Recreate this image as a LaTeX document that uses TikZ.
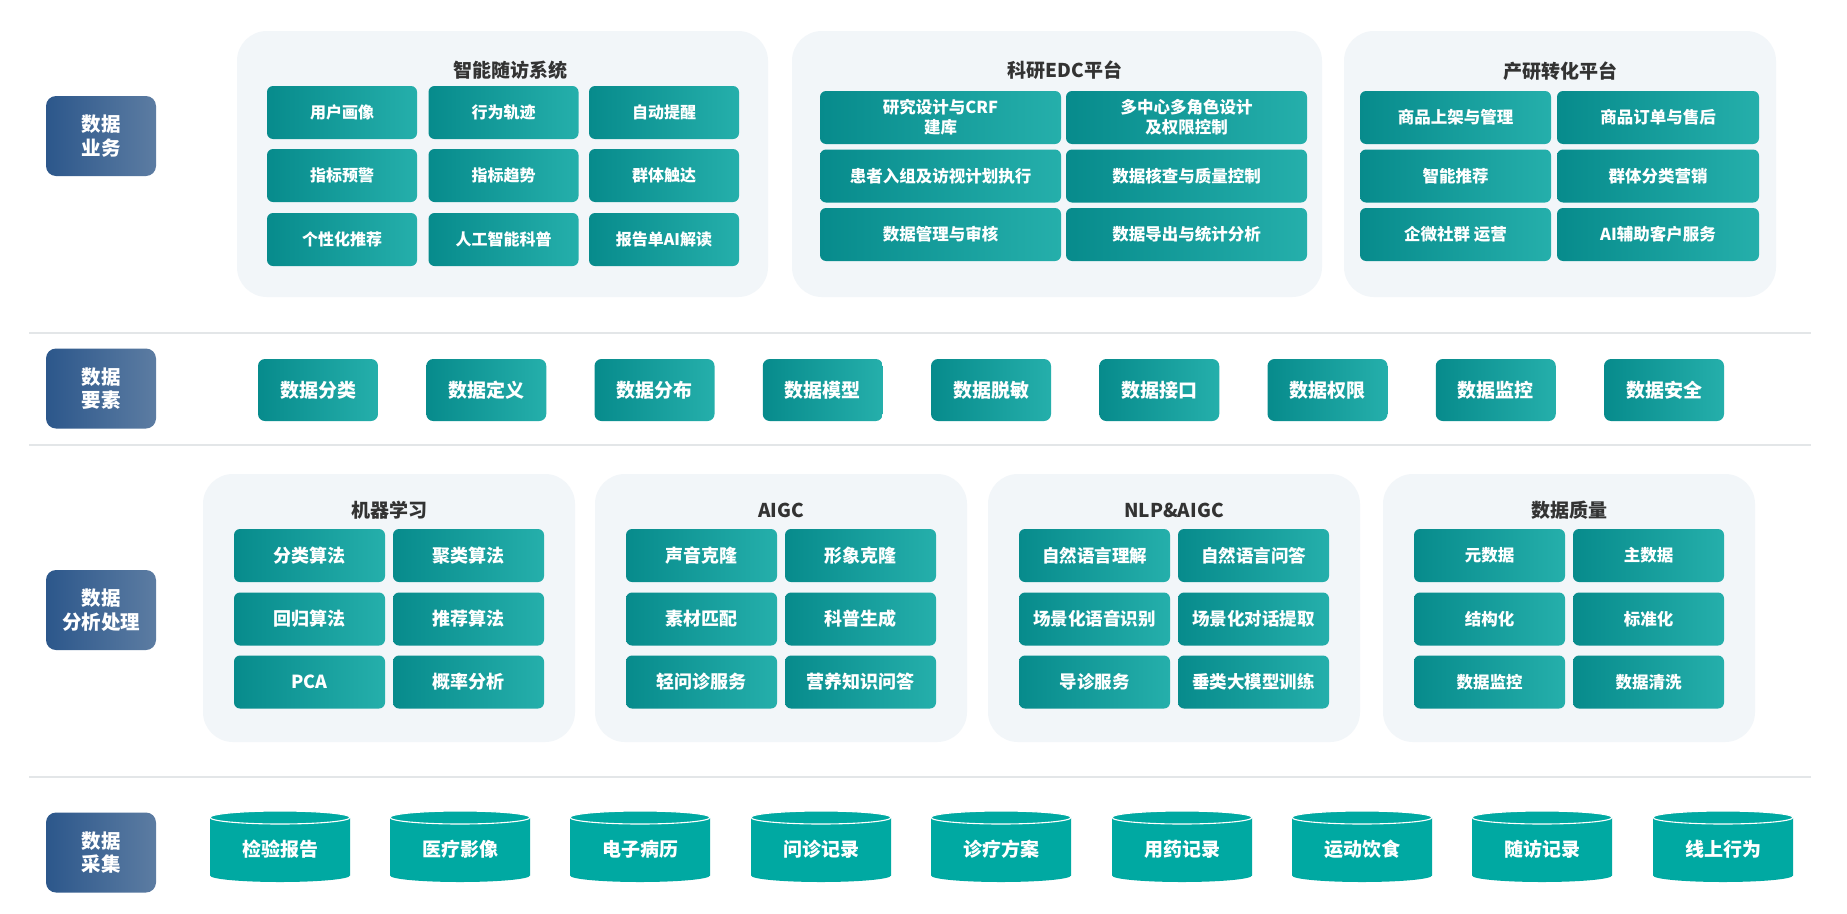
\documentclass[tikz,border=0pt]{standalone}
\usepackage{fontspec}
\setmainfont{Noto Sans CJK SC}

\definecolor{lblL}{HTML}{2C578B}
\definecolor{lblR}{HTML}{5C7CA2}
\definecolor{cellL}{HTML}{078B8C}
\definecolor{cellR}{HTML}{25AFAB}
\definecolor{grpbg}{HTML}{F2F6F9}
\definecolor{sepc}{HTML}{E3E6E8}
\definecolor{cylc}{HTML}{00A9A2}
\definecolor{titlec}{HTML}{333333}

\tikzset{
  rowlabel/.style={rounded corners=10pt, left color=lblL, right color=lblR, text=white,
    font=\bfseries\fontsize{19.5}{23.5}\selectfont, align=center,
    minimum width=110pt, minimum height=80pt, inner sep=0pt},
  groupbox/.style={fill=grpbg, rounded corners=30pt},
  grouptitle/.style={text=titlec, font=\bfseries\fontsize{19}{22}\selectfont},
  cellbox/.style={rounded corners=6pt, left color=cellL, right color=cellR, text=white,
    font=\bfseries\fontsize{16}{20}\selectfont, align=center,
    minimum width=#1, minimum height=53pt, inner sep=0pt},
  cellbox/.default=150pt,
  bigcell/.style={cellbox=151pt, font=\bfseries\fontsize{18}{21}\selectfont},
  midcell/.style={cellbox=151pt, font=\bfseries\fontsize{17.5}{21}\selectfont},
  elembox/.style={cellbox=120pt, minimum height=62pt, rounded corners=7pt,
    font=\bfseries\fontsize{19}{22}\selectfont},
  sepline/.style={draw=sepc, line width=2pt},
  cylbody/.style={fill=cylc},
  cyltop/.style={draw=white, line width=1.1pt},
  cyltext/.style={text=white, font=\bfseries\fontsize{19}{22}\selectfont},
}

\begin{document}
\begin{tikzpicture}[x=1pt, y=-1pt]

  % Canvas
  \useasboundingbox (0,0) rectangle (1847,913);
  \fill[white] (0,0) rectangle (1847,913);

  % Separators between the layers
  \draw[sepline] (29,333) -- (1811,333);
  \draw[sepline] (29,445) -- (1811,445);
  \draw[sepline] (29,777) -- (1811,777);

  % Layer labels
  \node[rowlabel] (LblBiz) at (101,136) {数据\\业务};
  \node[rowlabel] (LblElem) at (101,388.5) {数据\\要素};
  \node[rowlabel] (LblProc) at (101,610) {数据\\分析处理};
  \node[rowlabel] (LblColl) at (101,852.5) {数据\\采集};

  % Layer 1: follow-up system
  \fill[groupbox] (237,31) rectangle (768,297);
  \node[grouptitle] (FupTitle) at (510,70) {智能随访系统};
  \node[cellbox] (Fup11) at (342,112.5) {用户画像};
  \node[cellbox] (Fup12) at (503.5,112.5) {行为轨迹};
  \node[cellbox] (Fup13) at (664,112.5) {自动提醒};
  \node[cellbox] (Fup21) at (342,175.5) {指标预警};
  \node[cellbox] (Fup22) at (503.5,175.5) {指标趋势};
  \node[cellbox] (Fup23) at (664,175.5) {群体触达};
  \node[cellbox] (Fup31) at (342,239.5) {个性化推荐};
  \node[cellbox] (Fup32) at (503.5,239.5) {人工智能科普};
  \node[cellbox] (Fup33) at (664,239.5) {报告单AI解读};

  % Layer 1: EDC platform
  \fill[groupbox] (792,31) rectangle (1322,297);
  \node[grouptitle] (EdcTitle) at (1065,70) {科研EDC平台};
  \node[cellbox=241pt, font=\bfseries\fontsize{16.5}{20}\selectfont] (Edc11) at (940.5,117.5) {研究设计与CRF\\建库};
  \node[cellbox=241pt, font=\bfseries\fontsize{16.5}{20}\selectfont] (Edc12) at (1186.5,117.5) {多中心多角色设计\\及权限控制};
  \node[cellbox=241pt, font=\bfseries\fontsize{16.5}{20}\selectfont] (Edc21) at (940.5,176) {患者入组及访视计划执行};
  \node[cellbox=241pt, font=\bfseries\fontsize{16.5}{20}\selectfont] (Edc22) at (1186.5,176) {数据核查与质量控制};
  \node[cellbox=241pt, font=\bfseries\fontsize{16.5}{20}\selectfont] (Edc31) at (940.5,234.5) {数据管理与审核};
  \node[cellbox=241pt, font=\bfseries\fontsize{16.5}{20}\selectfont] (Edc32) at (1186.5,234.5) {数据导出与统计分析};

  % Layer 1: industry platform
  \fill[groupbox] (1344,31) rectangle (1776,297);
  \node[grouptitle] (IndTitle) at (1560,71) {产研转化平台};
  \node[cellbox=191pt, font=\bfseries\fontsize{16.5}{20}\selectfont] (Ind11) at (1455.5,117.5) {商品上架与管理};
  \node[cellbox=202pt, font=\bfseries\fontsize{16.5}{20}\selectfont] (Ind12) at (1658,117.5) {商品订单与售后};
  \node[cellbox=191pt, font=\bfseries\fontsize{16.5}{20}\selectfont] (Ind21) at (1455.5,176) {智能推荐};
  \node[cellbox=202pt, font=\bfseries\fontsize{16.5}{20}\selectfont] (Ind22) at (1658,176) {群体分类营销};
  \node[cellbox=191pt, font=\bfseries\fontsize{16.5}{20}\selectfont] (Ind31) at (1455.5,234.5) {企微社群 运营};
  \node[cellbox=202pt, font=\bfseries\fontsize{16.5}{20}\selectfont] (Ind32) at (1658,234.5) {AI辅助客户服务};

  % Layer 2: data elements
  \node[elembox] (Elem1) at (318,390) {数据分类};
  \node[elembox] (Elem2) at (486.25,390) {数据定义};
  \node[elembox] (Elem3) at (654.5,390) {数据分布};
  \node[elembox] (Elem4) at (822.75,390) {数据模型};
  \node[elembox] (Elem5) at (991,390) {数据脱敏};
  \node[elembox] (Elem6) at (1159.25,390) {数据接口};
  \node[elembox] (Elem7) at (1327.5,390) {数据权限};
  \node[elembox] (Elem8) at (1495.75,390) {数据监控};
  \node[elembox] (Elem9) at (1664,390) {数据安全};

  % Layer 3: machine learning
  \fill[groupbox] (203,474) rectangle (575,742);
  \node[grouptitle] (MlTitle) at (389,510) {机器学习};
  \node[bigcell] (Ml11) at (309.5,555.5) {分类算法};
  \node[bigcell] (Ml12) at (468.5,555.5) {聚类算法};
  \node[bigcell] (Ml21) at (309.5,619) {回归算法};
  \node[bigcell] (Ml22) at (468.5,619) {推荐算法};
  \node[bigcell] (Ml31) at (309.5,682) {PCA};
  \node[bigcell] (Ml32) at (468.5,682) {概率分析};

  % Layer 3: AIGC
  \fill[groupbox] (595,474) rectangle (967,742);
  \node[grouptitle] (GenTitle) at (781,510) {AIGC};
  \node[bigcell] (Gen11) at (701.5,555.5) {声音克隆};
  \node[bigcell] (Gen12) at (860.5,555.5) {形象克隆};
  \node[bigcell] (Gen21) at (701.5,619) {素材匹配};
  \node[bigcell] (Gen22) at (860.5,619) {科普生成};
  \node[bigcell] (Gen31) at (701.5,682) {轻问诊服务};
  \node[bigcell] (Gen32) at (860.5,682) {营养知识问答};

  % Layer 3: NLP & AIGC
  \fill[groupbox] (988,474) rectangle (1360,742);
  \node[grouptitle] (NlpTitle) at (1174,510) {NLP\&AIGC};
  \node[midcell] (Nlp11) at (1094.5,555.5) {自然语言理解};
  \node[midcell] (Nlp12) at (1253.5,555.5) {自然语言问答};
  \node[midcell] (Nlp21) at (1094.5,619) {场景化语音识别};
  \node[midcell] (Nlp22) at (1253.5,619) {场景化对话提取};
  \node[midcell] (Nlp31) at (1094.5,682) {导诊服务};
  \node[midcell] (Nlp32) at (1253.5,682) {垂类大模型训练};

  % Layer 3: data quality
  \fill[groupbox] (1383,474) rectangle (1755,742);
  \node[grouptitle] (QualTitle) at (1569,510) {数据质量};
  \node[cellbox=151pt, font=\bfseries\fontsize{16.5}{20}\selectfont] (Qual11) at (1489.5,555.5) {元数据};
  \node[cellbox=151pt, font=\bfseries\fontsize{16.5}{20}\selectfont] (Qual12) at (1648.5,555.5) {主数据};
  \node[cellbox=151pt, font=\bfseries\fontsize{16.5}{20}\selectfont] (Qual21) at (1489.5,619) {结构化};
  \node[cellbox=151pt, font=\bfseries\fontsize{16.5}{20}\selectfont] (Qual22) at (1648.5,619) {标准化};
  \node[cellbox=151pt, font=\bfseries\fontsize{16.5}{20}\selectfont] (Qual31) at (1489.5,682) {数据监控};
  \node[cellbox=151pt, font=\bfseries\fontsize{16.5}{20}\selectfont] (Qual32) at (1648.5,682) {数据清洗};

  % Layer 4: data sources as cylinders
  \fill[cylbody] (210,817.5) -- (210,875.5) arc[start angle=180, end angle=0, x radius=70, y radius=6.5] -- (350,817.5) arc[start angle=0, end angle=-180, x radius=70, y radius=6.5] -- cycle;
  \draw[cyltop] (280,817.5) ellipse[x radius=70, y radius=6.5];
  \node[cyltext] (Src1) at (280,849) {检验报告};

  \fill[cylbody] (390,817.5) -- (390,875.5) arc[start angle=180, end angle=0, x radius=70, y radius=6.5] -- (530,817.5) arc[start angle=0, end angle=-180, x radius=70, y radius=6.5] -- cycle;
  \draw[cyltop] (460,817.5) ellipse[x radius=70, y radius=6.5];
  \node[cyltext] (Src2) at (460,849) {医疗影像};

  \fill[cylbody] (570,817.5) -- (570,875.5) arc[start angle=180, end angle=0, x radius=70, y radius=6.5] -- (710,817.5) arc[start angle=0, end angle=-180, x radius=70, y radius=6.5] -- cycle;
  \draw[cyltop] (640,817.5) ellipse[x radius=70, y radius=6.5];
  \node[cyltext] (Src3) at (640,849) {电子病历};

  \fill[cylbody] (751,817.5) -- (751,875.5) arc[start angle=180, end angle=0, x radius=70, y radius=6.5] -- (891,817.5) arc[start angle=0, end angle=-180, x radius=70, y radius=6.5] -- cycle;
  \draw[cyltop] (821,817.5) ellipse[x radius=70, y radius=6.5];
  \node[cyltext] (Src4) at (821,849) {问诊记录};

  \fill[cylbody] (931,817.5) -- (931,875.5) arc[start angle=180, end angle=0, x radius=70, y radius=6.5] -- (1071,817.5) arc[start angle=0, end angle=-180, x radius=70, y radius=6.5] -- cycle;
  \draw[cyltop] (1001,817.5) ellipse[x radius=70, y radius=6.5];
  \node[cyltext] (Src5) at (1001,849) {诊疗方案};

  \fill[cylbody] (1112,817.5) -- (1112,875.5) arc[start angle=180, end angle=0, x radius=70, y radius=6.5] -- (1252,817.5) arc[start angle=0, end angle=-180, x radius=70, y radius=6.5] -- cycle;
  \draw[cyltop] (1182,817.5) ellipse[x radius=70, y radius=6.5];
  \node[cyltext] (Src6) at (1182,849) {用药记录};

  \fill[cylbody] (1292,817.5) -- (1292,875.5) arc[start angle=180, end angle=0, x radius=70, y radius=6.5] -- (1432,817.5) arc[start angle=0, end angle=-180, x radius=70, y radius=6.5] -- cycle;
  \draw[cyltop] (1362,817.5) ellipse[x radius=70, y radius=6.5];
  \node[cyltext] (Src7) at (1362,849) {运动饮食};

  \fill[cylbody] (1472,817.5) -- (1472,875.5) arc[start angle=180, end angle=0, x radius=70, y radius=6.5] -- (1612,817.5) arc[start angle=0, end angle=-180, x radius=70, y radius=6.5] -- cycle;
  \draw[cyltop] (1542,817.5) ellipse[x radius=70, y radius=6.5];
  \node[cyltext] (Src8) at (1542,849) {随访记录};

  \fill[cylbody] (1653,817.5) -- (1653,875.5) arc[start angle=180, end angle=0, x radius=70, y radius=6.5] -- (1793,817.5) arc[start angle=0, end angle=-180, x radius=70, y radius=6.5] -- cycle;
  \draw[cyltop] (1723,817.5) ellipse[x radius=70, y radius=6.5];
  \node[cyltext] (Src9) at (1723,849) {线上行为};

\end{tikzpicture}
\end{document}
